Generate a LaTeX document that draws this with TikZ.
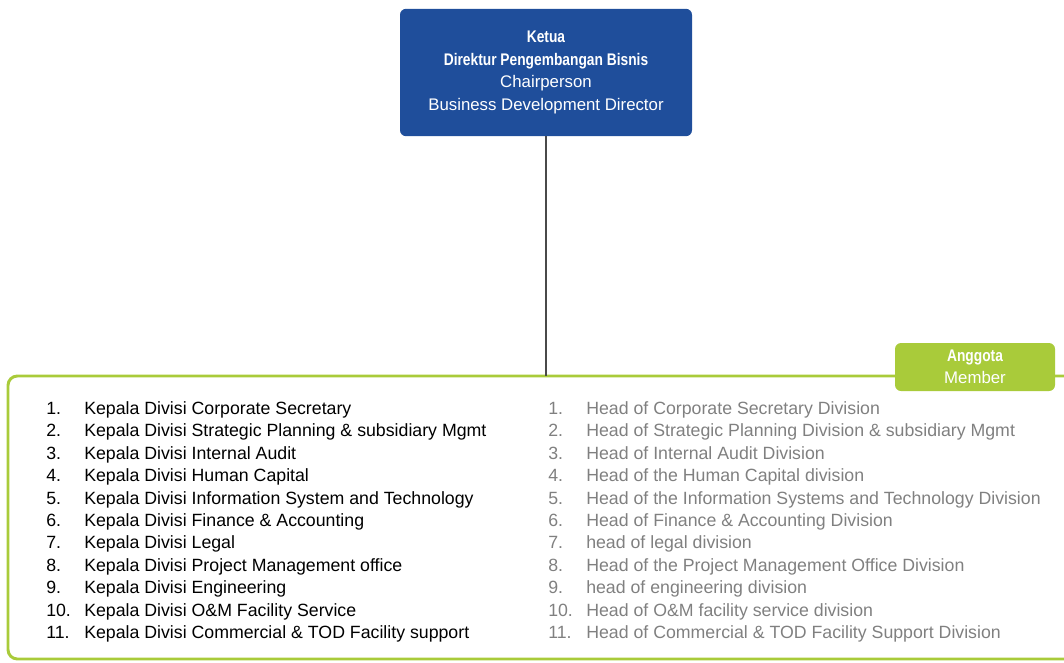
\documentclass[tikz,border=0pt]{standalone}
\usepackage{fontspec}
\setmainfont{Liberation Sans}
\newfontfamily\condbf[FakeStretch=0.82]{Liberation Sans Bold}
\usetikzlibrary{positioning}
\definecolor{orgblue}{HTML}{1F4E9B}
\definecolor{orggreen}{HTML}{A9CB3A}
\definecolor{orgline}{HTML}{4A4A4A}
\definecolor{orggray}{HTML}{808080}

\begin{document}
\begin{tikzpicture}[x=0.75pt, y=-0.75pt,
  chair/.style={fill=orgblue, rounded corners=4.5pt, text=white, align=center,
    minimum width=219pt, minimum height=95.5pt, inner sep=0pt, font=\fontsize{12.6}{17}\selectfont},
  tag/.style={fill=orggreen, rounded corners=4.5pt, text=white, align=center,
    minimum width=120pt, minimum height=36pt, inner sep=0pt, font=\fontsize{12.6}{16.5}\selectfont},
  num/.style={anchor=base west, inner sep=0pt, font=\fontsize{13.3}{15}\selectfont},
  item/.style={num},
  link/.style={draw=orgline, line width=1.5pt}
]
\useasboundingbox (0,0) rectangle (1064,662);

\node[chair] (chair) at (546,72.5) {{\condbf Ketua}\\{\condbf Direktur Pengembangan Bisnis}\\Chairperson\\Business Development Director};

% member frame
\draw[orggreen, line width=2.2pt, rounded corners=7pt] (8,376) rectangle (1075,659);
\coordinate (frametop) at (546,376);
\node[tag] (anggota) at (975,367) {{\condbf Anggota}\\Member};

\draw[link] (chair.south) -- (frametop);

\foreach \n/\idn/\eng [count=\i from 0] in {
  1./Kepala Divisi Corporate Secretary/Head of Corporate Secretary Division,
  2./Kepala Divisi Strategic Planning \& subsidiary Mgmt/Head of Strategic Planning Division \& subsidiary Mgmt,
  3./Kepala Divisi Internal Audit/Head of Internal Audit Division,
  4./Kepala Divisi Human Capital/Head of the Human Capital division,
  5./Kepala Divisi Information System and Technology/Head of the Information Systems and Technology Division,
  6./Kepala Divisi Finance \& Accounting/Head of Finance \& Accounting Division,
  7./Kepala Divisi Legal/head of legal division,
  8./Kepala Divisi Project Management office/Head of the Project Management Office Division,
  9./Kepala Divisi Engineering/head of engineering division,
  10./Kepala Divisi O\&M Facility Service/Head of O\&M facility service division,
  11./Kepala Divisi Commercial \& TOD Facility support/Head of Commercial \& TOD Facility Support Division}
{
  \node[num] (idnum\i) at (46,414.5+22.4*\i) {\n};
  \node[item] (idn\i) at (84,414.5+22.4*\i) {\idn};
  \node[num, text=orggray] (ennum\i) at (548,414.5+22.4*\i) {\n};
  \node[item, text=orggray] (eng\i) at (586,414.5+22.4*\i) {\eng};
}
\end{tikzpicture}
\end{document}
